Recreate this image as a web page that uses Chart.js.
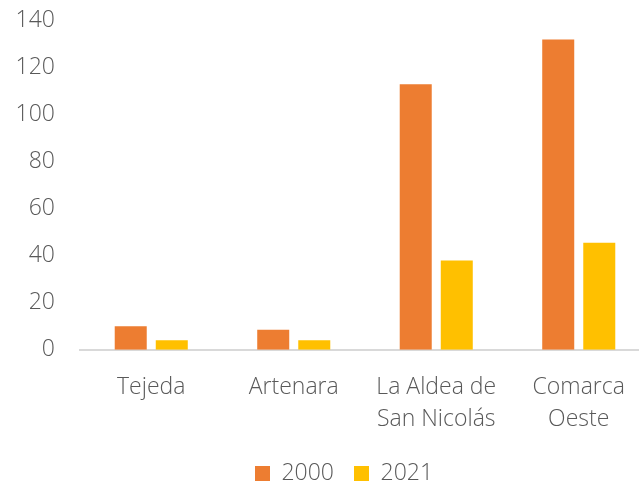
<!DOCTYPE html>
<html>
<head>
<meta charset="utf-8">
<script src="https://cdn.jsdelivr.net/npm/chart.js@4"></script>
<style>
  html, body { margin: 0; padding: 0; background: #fff; overflow: hidden; }
  #wrap { width: 650px; height: 513px; margin-top: -18px; }
</style>
</head>
<body>
<div id="wrap"><canvas id="chartComarca"></canvas></div>
<script>
const municipios = ['Tejeda', 'Artenara', ['La Aldea de', 'San Nicolás'], ['Comarca', 'Oeste']];
const valores2000 = [10, 8.5, 113, 132];
const valores2021 = [4, 4, 38, 45.5];
const yMax = 140;
const yStep = 20;

// nudge the legend a bit to the right, like the original
const legendShift = {
    id: 'legendShift',
    afterLayout(chart) {
        chart.legend.left += 19;
        chart.legend.right += 19;
    }
};

document.addEventListener('DOMContentLoaded', () => {
    const ctx = document.getElementById('chartComarca');
    Chart.defaults.font.family = "'Open Sans', sans-serif";
    Chart.defaults.font.weight = 300;
    Chart.defaults.color = '#595959';

    new Chart(ctx, {
        type: 'bar',
        data: {
            labels: municipios,
            datasets: [{
                label: '2000',
                data: valores2000,
                backgroundColor: '#ED7D31',
                categoryPercentage: 0.576,
                barPercentage: 0.78
            }, {
                label: '2021',
                data: valores2021,
                backgroundColor: '#FFC000',
                categoryPercentage: 0.576,
                barPercentage: 0.78
            }]
        },
        plugins: [legendShift],
        options: {
            responsive: true,
            maintainAspectRatio: false,
            animation: false,
            layout: { padding: { top: 3, right: 0, left: 0, bottom: 0 } },
            plugins: {
                tooltip: { enabled: false },
                legend: {
                    position: 'bottom',
                    labels: {
                        boxWidth: 15,
                        boxHeight: 15,
                        padding: 20,
                        font: { size: 23, weight: 300 }
                    }
                }
            },
            scales: {
                x: {
                    grid: { display: false, drawTicks: false },
                    border: { display: true, color: '#d9d9d9', width: 2 },
                    ticks: { padding: 21, font: { size: 23, weight: 300, lineHeight: 1.42 }, maxRotation: 0 },
                    afterFit: (scale) => { scale.height -= 15; }
                },
                y: {
                    min: 0,
                    max: yMax,
                    grid: { display: false, drawTicks: false },
                    border: { display: false },
                    ticks: { stepSize: yStep, padding: 25, font: { size: 23, weight: 300 } },
                    afterFit: (scale) => { scale.width = 80; }
                }
            }
        }
    });
});
</script>
</body>
</html>
